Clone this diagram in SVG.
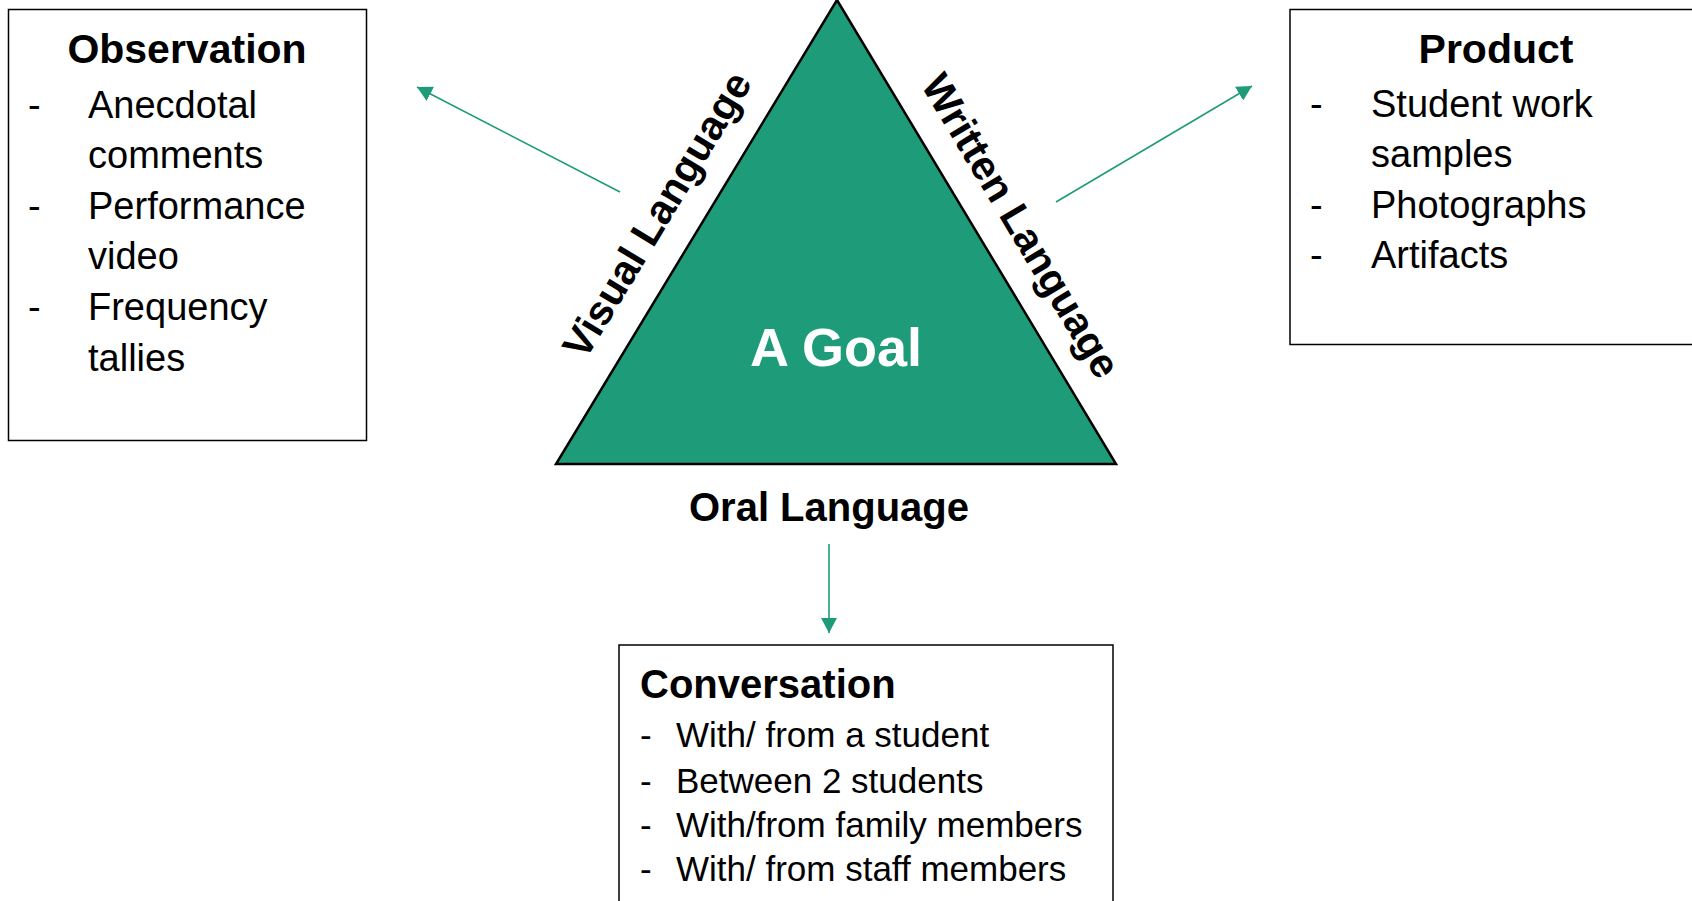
<svg xmlns="http://www.w3.org/2000/svg" width="1692" height="901" viewBox="0 0 1692 901">
  <style>
    .box { fill: #ffffff; stroke: #000000; stroke-width: 1.5; }
    .title { font-family: "Liberation Sans", Arial, sans-serif; font-weight: bold; font-size: 41px; fill: #000000; }
    .item { font-family: "Liberation Sans", Arial, sans-serif; font-size: 38px; fill: #000000; }
    .item2 { font-family: "Liberation Sans", Arial, sans-serif; font-size: 35px; fill: #000000; }
    .side { font-family: "Liberation Sans", Arial, sans-serif; font-weight: bold; font-size: 41px; fill: #000000; }
    .goal { font-family: "Liberation Sans", Arial, sans-serif; font-weight: bold; font-size: 54px; fill: #ffffff; }
    .conn { stroke: #1E9C7A; stroke-width: 1.6; fill: none; }
  </style>
  <defs>
    <marker id="arrow" markerUnits="userSpaceOnUse" markerWidth="16" markerHeight="16" refX="15" refY="8" orient="auto">
      <path d="M0,0 L15,8 L0,16 Z" fill="#1E9C7A"/>
    </marker>
  </defs>
  <rect width="1692" height="901" fill="#ffffff"/>

  <g id="observation">
    <rect class="box" x="8.5" y="9.5" width="358" height="431"/>
    <text class="title" x="187" y="63" text-anchor="middle">Observation</text>
    <text class="item" x="28" y="118">-</text>
    <text class="item" x="88" y="118">Anecdotal</text>
    <text class="item" x="88" y="168">comments</text>
    <text class="item" x="28" y="219">-</text>
    <text class="item" x="88" y="219">Performance</text>
    <text class="item" x="88" y="269">video</text>
    <text class="item" x="28" y="320">-</text>
    <text class="item" x="88" y="320">Frequency</text>
    <text class="item" x="88" y="371">tallies</text>
  </g>

  <g id="product">
    <rect class="box" x="1290" y="9.5" width="420" height="335"/>
    <text class="title" x="1496" y="63" text-anchor="middle">Product</text>
    <text class="item" x="1310" y="117">-</text>
    <text class="item" x="1371" y="117">Student work</text>
    <text class="item" x="1371" y="167">samples</text>
    <text class="item" x="1310" y="218">-</text>
    <text class="item" x="1371" y="218">Photographs</text>
    <text class="item" x="1310" y="268">-</text>
    <text class="item" x="1371" y="268">Artifacts</text>
  </g>

  <g id="goal">
    <polygon points="837,0 1116,464 556,464" fill="#1E9C7A" stroke="#000000" stroke-width="2.5" stroke-linejoin="miter"/>
    <text class="goal" x="836" y="366" text-anchor="middle">A Goal</text>
    <text class="side" text-anchor="middle" transform="translate(669,222) rotate(-58.9)">Visual Language</text>
    <text class="side" text-anchor="middle" transform="translate(1009,233) rotate(59.1)">Written Language</text>
    <text class="side" x="829" y="521" text-anchor="middle" style="font-size:40px">Oral Language</text>
  </g>

  <g id="conversation">
    <rect class="box" x="619" y="645" width="494" height="290"/>
    <text class="title" x="640" y="698" style="font-size:40px">Conversation</text>
    <text class="item2" x="640" y="747">-</text>
    <text class="item2" x="676" y="747">With/ from a student</text>
    <text class="item2" x="640" y="793">-</text>
    <text class="item2" x="676" y="793">Between 2 students</text>
    <text class="item2" x="640" y="837">-</text>
    <text class="item2" x="676" y="837">With/from family members</text>
    <text class="item2" x="640" y="881">-</text>
    <text class="item2" x="676" y="881">With/ from staff members</text>
  </g>

  <g id="connectors">
    <line class="conn" x1="620" y1="192" x2="417" y2="87" marker-end="url(#arrow)"/>
    <line class="conn" x1="1056" y1="202" x2="1252" y2="86" marker-end="url(#arrow)"/>
    <line class="conn" x1="829" y1="544" x2="829" y2="633" marker-end="url(#arrow)"/>
  </g>
</svg>
